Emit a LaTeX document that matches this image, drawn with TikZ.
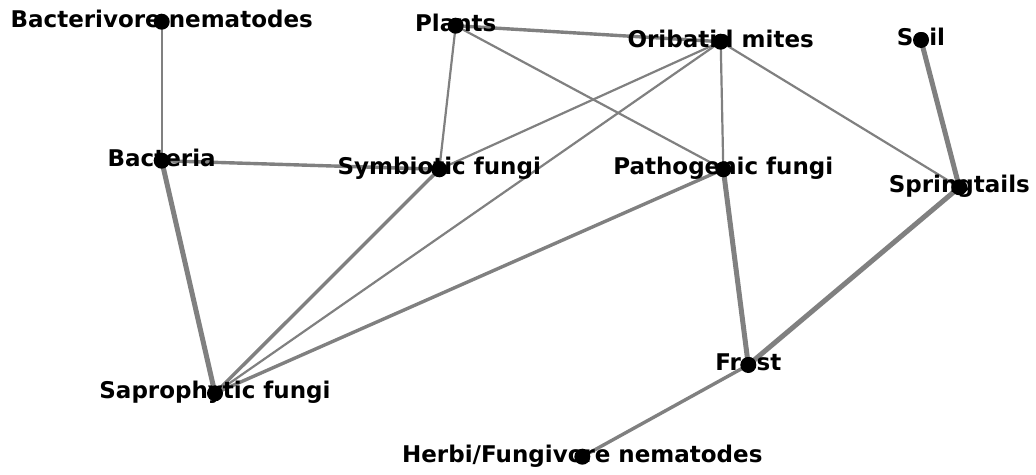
\documentclass[tikz,border=0pt]{standalone}
\usepackage{fontspec}
\setmainfont{DejaVu Sans}
\definecolor{edgegray}{RGB}{128,128,128}
\tikzset{every picture/.style={line width=0.75pt}}
\tikzset{
lnk/.style={draw=edgegray, line width=2.2pt},
lnkmid/.style={draw=edgegray, line width=3.4pt},
lnkthick/.style={draw=edgegray, line width=5pt},
lbl/.style={anchor=base, inner sep=0pt, font=\fontsize{23}{27}\selectfont\bfseries}}

\begin{document}
\begin{tikzpicture}[x=1pt,y=1pt,yscale=-1,xscale=1]
\useasboundingbox (0,0) rectangle (1036,474);

% Node positions
\coordinate (bactnem) at (161.7,21.7);
\coordinate (plants) at (455.7,25.7);
\coordinate (mites) at (720.7,41.7);
\coordinate (soil) at (921,40);
\coordinate (bact) at (161.7,160.7);
\coordinate (symb) at (439.3,169.3);
\coordinate (path) at (723.3,169.3);
\coordinate (spring) at (959.3,187.3);
\coordinate (frost) at (748.3,365);
\coordinate (sapro) at (215,393.3);
\coordinate (herbi) at (582.3,456.7);

% Edges
\draw [lnk] (bactnem) -- (bact) ;
\draw [lnkmid] (plants) -- (mites) ;
\draw [lnk] (plants) -- (symb) ;
\draw [lnk] (plants) -- (path) ;
\draw [lnk] (mites) -- (symb) ;
\draw [lnk] (mites) -- (sapro) ;
\draw [lnk] (mites) -- (path) ;
\draw [lnk] (mites) -- (spring) ;
\draw [lnkthick] (soil) -- (spring) ;
\draw [lnkmid] (bact) -- (symb) ;
\draw [lnkthick] (bact) -- (sapro) ;
\draw [lnkmid] (symb) -- (sapro) ;
\draw [lnkmid] (path) -- (sapro) ;
\draw [lnkthick] (path) -- (frost) ;
\draw [lnkthick] (spring) -- (frost) ;
\draw [lnkmid] (frost) -- (herbi) ;

% Text Node
\draw (bactnem) ++(0,5.5) node [lbl] (tbactnem) {Bacterivore nematodes};
\draw (plants) ++(0,5.5) node [lbl] (tplants) {Plants};
\draw (mites) ++(0,5.5) node [lbl] (tmites) {Oribatid mites};
\draw (soil) ++(0,5.5) node [lbl] (tsoil) {Soil};
\draw (bact) ++(0,5.5) node [lbl] (tbact) {Bacteria};
\draw (symb) ++(0,5.5) node [lbl] (tsymb) {Symbiotic fungi};
\draw (path) ++(0,5.5) node [lbl] (tpath) {Pathogenic fungi};
\draw (spring) ++(0,5.5) node [lbl] (tspring) {Springtails};
\draw (frost) ++(0,5.5) node [lbl] (tfrost) {Frost};
\draw (sapro) ++(0,5.5) node [lbl] (tsapro) {Saprophytic fungi};
\draw (herbi) ++(0,5.5) node [lbl] (therbi) {Herbi/Fungivore nematodes};

% Dots
\foreach \n in {bactnem,plants,mites,soil,bact,symb,path,spring,frost,sapro,herbi}
  \fill [black] (\n) circle (8);

\end{tikzpicture}
\end{document}
